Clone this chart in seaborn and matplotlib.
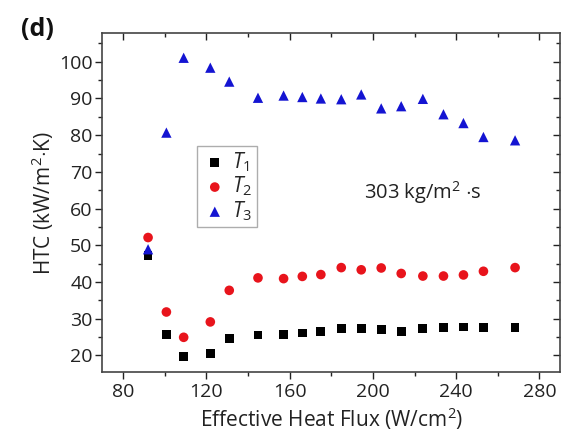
import matplotlib
matplotlib.use("Agg")
import matplotlib.pyplot as plt
import seaborn as sns
import pandas as pd
from matplotlib.ticker import MultipleLocator

heat_flux = [92, 100.8, 109.1, 121.9, 131, 144.8, 157.1, 166.1, 175, 184.8,
             194.4, 204, 213.6, 224, 233.9, 243.5, 253.1, 268.3]
htc_t1 = [47.2, 25.7, 19.7, 20.5, 24.6, 25.5, 25.7, 26.1, 26.4, 27.3,
          27.2, 27.0, 26.4, 27.2, 27.5, 27.7, 27.5, 27.5]
htc_t2 = [52.1, 31.8, 24.9, 29.1, 37.7, 41.1, 40.9, 41.5, 42.0, 43.9,
          43.3, 43.8, 42.3, 41.6, 41.6, 41.9, 42.9, 43.9]
htc_t3 = [48.9, 80.7, 101.1, 98.4, 94.6, 90.2, 90.8, 90.4, 90.0, 89.8,
          91.1, 87.3, 87.9, 89.9, 85.7, 83.3, 79.5, 78.6]
series_names = [r"$\mathit{T_1}$", r"$\mathit{T_2}$", r"$\mathit{T_3}$"]
x_ticks = [80, 120, 160, 200, 240, 280]
y_ticks = [20, 30, 40, 50, 60, 70, 80, 90, 100]

sns.set_theme(style="white")
FONT = 'Open Sans'
plt.rcParams['font.family'] = [FONT, 'DejaVu Sans']
plt.rcParams['mathtext.fontset'] = 'custom'
plt.rcParams['mathtext.it'] = FONT + ':italic'
plt.rcParams['mathtext.rm'] = FONT

rows = []
for name, vals in zip(series_names, [htc_t1, htc_t2, htc_t3]):
    for x, y in zip(heat_flux, vals):
        rows.append({"flux": x, "htc": y, "series": name})
df = pd.DataFrame(rows)

fig = plt.figure(figsize=(5.65, 4.34), dpi=100)
ax = fig.add_axes([0.181, 0.1425, 0.8106, 0.781])

palette = {series_names[0]: "black", series_names[1]: "#e8141c", series_names[2]: "#1414d2"}
markers = {series_names[0]: "s", series_names[1]: "o", series_names[2]: "^"}
sizes = {series_names[0]: 40, series_names[1]: 48, series_names[2]: 55}
for name in series_names:
    sub = df[df.series == name]
    sns.scatterplot(data=sub, x="flux", y="htc", color=palette[name], marker=markers[name],
                    s=sizes[name], edgecolor="none", label=name, ax=ax, zorder=3)

ax.set_xlim(70, 290)
ax.set_ylim(15.4, 107.8)
ax.set_xticks(x_ticks)
ax.set_yticks(y_ticks)
ax.xaxis.set_minor_locator(MultipleLocator(20))
ax.yaxis.set_minor_locator(MultipleLocator(5))
ax.tick_params(axis="both", which="major", direction="out", length=5, width=1,
               labelsize=14, colors="#222222", bottom=True, left=True, pad=2)
ax.tick_params(axis="x", which="major", pad=3)
ax.tick_params(axis="both", which="minor", direction="out", length=3, width=1,
               bottom=True, left=True, colors="#222222")

top = ax.secondary_xaxis("top")
top.set_xticks(x_ticks)
top.xaxis.set_minor_locator(MultipleLocator(20))
top.tick_params(which="major", direction="in", length=5, width=1, labeltop=False, colors="#222222")
top.tick_params(which="minor", direction="in", length=3, width=1, colors="#222222")
right = ax.secondary_yaxis("right")
right.set_yticks(y_ticks)
right.yaxis.set_minor_locator(MultipleLocator(5))
right.tick_params(which="major", direction="in", length=5, width=1, labelright=False, colors="#222222")
right.tick_params(which="minor", direction="in", length=3, width=1, colors="#222222")
for sec in (top, right):
    for sp in sec.spines.values():
        sp.set_visible(False)

ax.set_xlabel("Effective Heat Flux (W/cm$^{\\mathrm{2}}$)", fontsize=15, color="#222222", labelpad=3)
ax.set_ylabel("HTC (kW/m$^{\\mathrm{2}}$$\\cdot$K)", fontsize=15, color="#222222", labelpad=2)
for sp in ax.spines.values():
    sp.set_color("#444444")
    sp.set_linewidth(1.2)

leg = ax.legend(loc="upper left", bbox_to_anchor=(0.207, 0.668), fontsize=15,
                frameon=True, fancybox=False, edgecolor="#999999", handletextpad=0.2,
                borderpad=0.2, labelspacing=0.05, handlelength=1.3, borderaxespad=0)
leg.get_frame().set_linewidth(1.0)

ax.text(195.5, 64.4, "303 kg/m$^{\\mathrm{2}}$ $\\cdot$s", fontsize=14.5, color="#222222",
        va="center", ha="left")
fig.text(0.037, 0.932, "(d)", fontsize=18, fontweight="bold", color="#111111", va="center")

fig.savefig("out.png", dpi=100, facecolor="white")
